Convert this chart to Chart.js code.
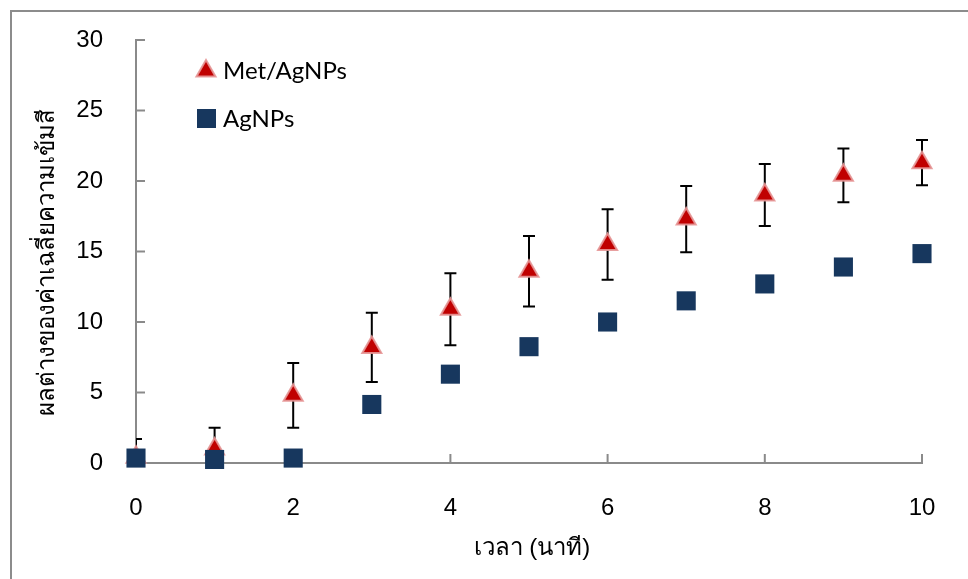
<!DOCTYPE html>
<html>
<head>
  <meta charset="UTF-8">
  <script src="https://cdn.jsdelivr.net/npm/chart.js"></script>
  <title>Met/AgNPs</title>
  <style>
    body { margin: 0; background: #fff; }
    #wrap { width: 968px; height: 579px; }
  </style>
</head>
<body>
  <div id="wrap">
    <canvas id="grafico" width="968" height="579"></canvas>
  </div>

<script>
  // dados
  var tempos = [0, 1, 2, 3, 4, 5, 6, 7, 8, 9, 10];
  var metAgnps = [0.4, 1.0, 4.8, 8.2, 10.9, 13.6, 15.5, 17.3, 19.0, 20.4, 21.3];
  var metErro = [1.3, 1.5, 2.3, 2.45, 2.55, 2.5, 2.5, 2.35, 2.2, 1.9, 1.6];
  var agnps = [0.35, 0.25, 0.35, 4.15, 6.3, 8.25, 10.0, 11.5, 12.7, 13.9, 14.85];
  var nomesSeries = ["Met/AgNPs", "AgNPs"];
  var tituloX = "เวลา (นาที)";
  var tituloY = "ผลต่างของค่าเฉลี่ยความเข้มสี";

  var corEixo = "#8a8a8a";
  var fonteNum = "'Liberation Sans Narrow', 'Liberation Sans', sans-serif";

  function pontos(vals) {
    var out = [];
    for (var i = 0; i < tempos.length; i++) {
      out.push({ x: tempos[i], y: vals[i] });
    }
    return out;
  }

  // moldura cinza
  var moldura = {
    id: "moldura",
    beforeDraw: function (chart) {
      var ctx = chart.ctx;
      ctx.save();
      ctx.strokeStyle = "#8c8c8c";
      ctx.lineWidth = 2;
      ctx.beginPath();
      ctx.moveTo(11, 600);
      ctx.lineTo(11, 11);
      ctx.lineTo(1000, 11);
      ctx.stroke();
      ctx.restore();
    }
  };

  // marcas dos eixos voltadas para dentro
  var marcas = {
    id: "marcas",
    beforeDatasetsDraw: function (chart) {
      var ctx = chart.ctx;
      var x = chart.scales.x, y = chart.scales.y;
      ctx.save();
      ctx.strokeStyle = corEixo;
      ctx.lineWidth = 2;
      x.ticks.forEach(function (t) {
        var px = x.getPixelForValue(t.value);
        ctx.beginPath();
        ctx.moveTo(px, y.bottom);
        ctx.lineTo(px, y.bottom - 9);
        ctx.stroke();
      });
      y.ticks.forEach(function (t) {
        var py = y.getPixelForValue(t.value);
        ctx.beginPath();
        ctx.moveTo(x.left, py);
        ctx.lineTo(x.left + 9, py);
        ctx.stroke();
      });
      ctx.restore();
    }
  };

  // barras de erro da serie Met/AgNPs
  var barrasErro = {
    id: "barrasErro",
    beforeDatasetsDraw: function (chart) {
      var ctx = chart.ctx;
      var x = chart.scales.x, y = chart.scales.y;
      var area = chart.chartArea;
      ctx.save();
      ctx.beginPath();
      ctx.rect(area.left, area.top - 20, area.right - area.left + 20, area.bottom - area.top + 20);
      ctx.clip();
      ctx.strokeStyle = "#000";
      ctx.lineWidth = 2;
      for (var i = 0; i < tempos.length; i++) {
        var px = x.getPixelForValue(tempos[i]);
        var top = y.getPixelForValue(metAgnps[i] + metErro[i]);
        var bot = y.getPixelForValue(metAgnps[i] - metErro[i]);
        ctx.beginPath();
        ctx.moveTo(px, top); ctx.lineTo(px, bot);
        ctx.moveTo(px - 6, top); ctx.lineTo(px + 6, top);
        ctx.moveTo(px - 6, bot); ctx.lineTo(px + 6, bot);
        ctx.stroke();
      }
      ctx.restore();
    }
  };

  // legenda e titulos dos eixos
  var textos = {
    id: "textos",
    afterDraw: function (chart) {
      var ctx = chart.ctx;
      var ds = chart.data.datasets;
      ctx.save();
      ctx.fillStyle = ds[1].backgroundColor;
      ctx.strokeStyle = ds[1].borderColor;
      ctx.lineWidth = 2;
      Chart.helpers.drawPoint(ctx, { pointStyle: "triangle", radius: 11, borderWidth: 2 }, 206, 71);
      ctx.fillStyle = ds[0].backgroundColor;
      ctx.fillRect(197, 109, 19, 19);

      ctx.fillStyle = "#000";
      ctx.textBaseline = "middle";
      ctx.textAlign = "left";
      ctx.font = "24px Lato, sans-serif";
      ctx.fillText(nomesSeries[0], 223, 71);
      ctx.fillText(nomesSeries[1], 223, 119);

      ctx.font = "24px 'Liberation Sans Narrow', sans-serif";
      ctx.textAlign = "center";
      ctx.fillText(tituloX, 532, 548);

      ctx.translate(47, 262);
      ctx.rotate(-Math.PI / 2);
      ctx.fillText(tituloY, 0, 0);
      ctx.restore();
    }
  };

  var config = {
    type: "scatter",
    data: {
      datasets: [
        {
          label: nomesSeries[1],
          data: pontos(agnps),
          pointStyle: "rect",
          pointRadius: 13.5,
          pointHoverRadius: 13.5,
          backgroundColor: "#17375e",
          borderColor: "#17375e",
          borderWidth: 0,
          clip: false,
          order: 0
        },
        {
          label: nomesSeries[0],
          data: pontos(metAgnps),
          pointStyle: "triangle",
          pointRadius: 11,
          pointHoverRadius: 11,
          backgroundColor: "#c00000",
          borderColor: "rgba(230, 150, 150, 0.9)",
          borderWidth: 2,
          clip: false,
          order: 1
        }
      ]
    },
    options: {
      responsive: false,
      animation: false,
      events: [],
      layout: { padding: { top: 40, right: 46, left: 0, bottom: 0 } },
      plugins: {
        legend: { display: false },
        tooltip: { enabled: false }
      },
      scales: {
        x: {
          type: "linear",
          min: 0,
          max: 10,
          afterFit: function (s) { s.height = 116; },
          grid: { display: false },
          border: { color: corEixo, width: 2 },
          ticks: {
            stepSize: 2,
            padding: 23,
            color: "#000",
            font: { family: fonteNum, size: 24 }
          }
        },
        y: {
          min: 0,
          max: 30,
          afterFit: function (s) { s.width = 136; },
          grid: { display: false },
          border: { color: corEixo, width: 2 },
          ticks: {
            stepSize: 5,
            padding: 25,
            color: "#000",
            font: { family: fonteNum, size: 24 }
          }
        }
      }
    },
    plugins: [moldura, barrasErro, marcas, textos]
  };

  new Chart(document.getElementById("grafico"), config);
</script>
</body>
</html>
